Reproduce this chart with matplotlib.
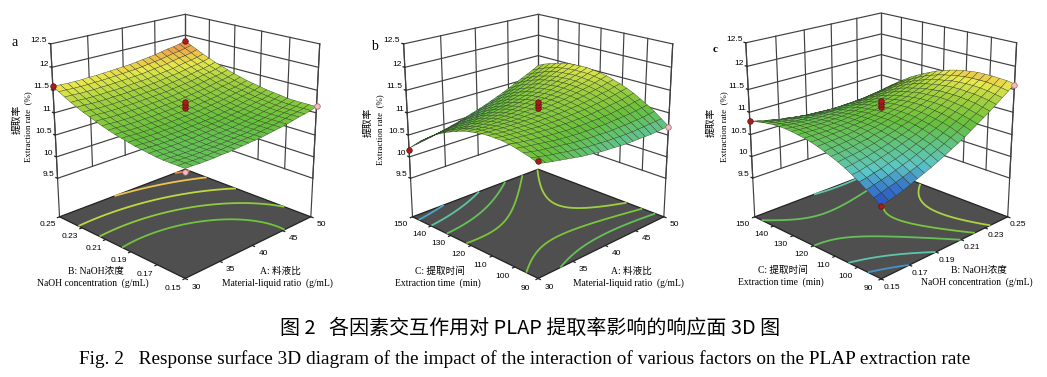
import numpy as np
import matplotlib
matplotlib.use('Agg')
import matplotlib.pyplot as plt
from matplotlib.colors import LinearSegmentedColormap, Normalize
from mpl_toolkits.mplot3d import proj3d

W, H = 1047, 377
SERIF = ['Liberation Serif', 'Noto Sans CJK SC']
SANS = ['Liberation Sans', 'Noto Sans CJK SC']

z_ticks = [9.5, 10, 10.5, 11, 11.5, 12, 12.5]
z_labels = ['9.5', '10', '10.5', '11', '11.5', '12', '12.5']
z_floor = 8.58
A_ticks = [30, 35, 40, 45, 50]
B_ticks = [0.15, 0.17, 0.19, 0.21, 0.23, 0.25]
C_ticks = [90, 100, 110, 120, 130, 140, 150]

cmap = LinearSegmentedColormap.from_list('de', [(0, '#2346c4'), (0.1, '#3a78c8'), (0.2, '#5cc6c8'), (0.43, '#66c03c'),
    (0.58, '#a4d040'), (0.68, '#e8e84c'), (0.78, '#eea04c'), (0.85, '#e87838'), (1, '#e05030')])
norm = Normalize(10.0, 12.2)

surf_a = [
[10.86,10.86,10.85,10.85,10.85,10.86,10.86,10.87,10.88,10.89,10.90,10.91,10.93,10.95,10.97,10.99,11.02,11.05,11.07,11.10,11.14],
[10.86,10.86,10.85,10.85,10.85,10.86,10.86,10.87,10.88,10.89,10.90,10.91,10.93,10.95,10.97,10.99,11.02,11.05,11.07,11.10,11.14],
[10.86,10.86,10.85,10.85,10.85,10.86,10.86,10.87,10.88,10.89,10.90,10.91,10.93,10.95,10.97,10.99,11.02,11.05,11.07,11.10,11.14],
[10.86,10.86,10.85,10.85,10.85,10.86,10.86,10.87,10.88,10.89,10.90,10.91,10.93,10.95,10.97,10.99,11.02,11.05,11.07,11.10,11.14],
[10.87,10.87,10.86,10.86,10.86,10.87,10.87,10.88,10.89,10.90,10.91,10.92,10.94,10.96,10.98,11.00,11.03,11.06,11.08,11.11,11.15],
[10.89,10.89,10.88,10.88,10.88,10.89,10.89,10.90,10.91,10.92,10.93,10.94,10.96,10.98,11.00,11.02,11.05,11.08,11.10,11.13,11.17],
[10.91,10.91,10.90,10.90,10.90,10.91,10.91,10.92,10.93,10.94,10.95,10.96,10.98,11.00,11.02,11.04,11.07,11.10,11.12,11.15,11.19],
[10.93,10.93,10.92,10.92,10.92,10.93,10.93,10.94,10.95,10.96,10.97,10.98,11.00,11.02,11.04,11.06,11.09,11.12,11.14,11.17,11.21],
[10.96,10.96,10.95,10.95,10.95,10.96,10.96,10.97,10.98,10.99,11.00,11.01,11.03,11.05,11.07,11.09,11.12,11.15,11.17,11.20,11.24],
[10.99,10.99,10.98,10.98,10.98,10.99,10.99,11.00,11.01,11.02,11.03,11.04,11.06,11.08,11.10,11.12,11.15,11.18,11.20,11.23,11.27],
[11.02,11.02,11.01,11.01,11.01,11.02,11.02,11.03,11.04,11.05,11.06,11.07,11.09,11.11,11.13,11.15,11.18,11.21,11.23,11.26,11.30],
[11.06,11.06,11.05,11.05,11.05,11.06,11.06,11.07,11.08,11.09,11.10,11.11,11.13,11.15,11.17,11.19,11.22,11.25,11.27,11.30,11.34],
[11.10,11.10,11.09,11.09,11.09,11.10,11.10,11.11,11.12,11.13,11.14,11.15,11.17,11.19,11.21,11.23,11.26,11.29,11.31,11.34,11.38],
[11.15,11.15,11.14,11.14,11.14,11.15,11.15,11.16,11.17,11.18,11.19,11.20,11.22,11.24,11.26,11.28,11.31,11.34,11.36,11.39,11.43],
[11.20,11.20,11.19,11.19,11.19,11.20,11.20,11.21,11.22,11.23,11.24,11.25,11.27,11.29,11.31,11.33,11.36,11.39,11.41,11.44,11.48],
[11.25,11.25,11.24,11.24,11.24,11.25,11.25,11.26,11.27,11.28,11.29,11.30,11.32,11.34,11.36,11.38,11.41,11.44,11.46,11.49,11.53],
[11.31,11.31,11.30,11.30,11.30,11.31,11.31,11.32,11.33,11.34,11.35,11.36,11.38,11.40,11.42,11.44,11.47,11.50,11.52,11.55,11.59],
[11.37,11.37,11.36,11.36,11.36,11.37,11.37,11.38,11.39,11.40,11.41,11.42,11.44,11.46,11.48,11.50,11.53,11.56,11.58,11.61,11.65],
[11.44,11.44,11.43,11.43,11.43,11.44,11.44,11.45,11.46,11.47,11.48,11.49,11.51,11.53,11.55,11.57,11.60,11.63,11.65,11.68,11.72],
[11.51,11.51,11.50,11.50,11.50,11.51,11.51,11.52,11.53,11.54,11.55,11.56,11.58,11.60,11.62,11.64,11.67,11.70,11.72,11.75,11.79],
[11.58,11.58,11.57,11.57,11.57,11.58,11.58,11.59,11.60,11.61,11.62,11.63,11.65,11.67,11.69,11.71,11.74,11.77,11.79,11.82,11.86],
]
surf_b = [
[10.96,10.92,10.89,10.86,10.83,10.80,10.77,10.75,10.73,10.71,10.70,10.69,10.68,10.67,10.67,10.67,10.67,10.67,10.68,10.69,10.70],
[11.02,10.98,10.95,10.92,10.90,10.87,10.85,10.83,10.81,10.80,10.79,10.78,10.78,10.77,10.77,10.77,10.78,10.79,10.80,10.81,10.82],
[11.06,11.03,11.00,10.98,10.96,10.94,10.92,10.90,10.89,10.88,10.87,10.87,10.86,10.86,10.87,10.87,10.88,10.89,10.90,10.92,10.94],
[11.10,11.07,11.05,11.03,11.01,10.99,10.97,10.96,10.95,10.94,10.94,10.94,10.94,10.94,10.95,10.96,10.97,10.98,11.00,11.02,11.04],
[11.13,11.10,11.08,11.06,11.05,11.03,11.02,11.01,11.00,11.00,11.00,11.00,11.01,11.01,11.02,11.03,11.05,11.07,11.08,11.11,11.13],
[11.15,11.12,11.11,11.09,11.08,11.07,11.06,11.05,11.05,11.05,11.05,11.06,11.06,11.07,11.09,11.10,11.12,11.14,11.16,11.19,11.22],
[11.15,11.13,11.12,11.11,11.10,11.09,11.08,11.08,11.08,11.08,11.09,11.10,11.11,11.12,11.14,11.16,11.18,11.20,11.23,11.26,11.29],
[11.15,11.13,11.12,11.11,11.11,11.10,11.10,11.10,11.11,11.11,11.12,11.13,11.15,11.16,11.18,11.20,11.23,11.26,11.28,11.32,11.35],
[11.14,11.12,11.12,11.11,11.11,11.11,11.11,11.11,11.12,11.13,11.14,11.15,11.17,11.19,11.22,11.24,11.27,11.30,11.33,11.37,11.40],
[11.11,11.11,11.10,11.10,11.10,11.10,11.10,11.11,11.12,11.13,11.15,11.17,11.19,11.21,11.24,11.27,11.30,11.33,11.37,11.41,11.45],
[11.08,11.08,11.07,11.07,11.08,11.08,11.09,11.10,11.12,11.13,11.15,11.17,11.20,11.22,11.25,11.28,11.32,11.35,11.39,11.44,11.48],
[11.04,11.04,11.04,11.04,11.05,11.06,11.07,11.08,11.10,11.12,11.14,11.16,11.19,11.22,11.25,11.29,11.33,11.37,11.41,11.46,11.50],
[10.98,10.99,10.99,11.00,11.01,11.02,11.04,11.05,11.07,11.09,11.12,11.15,11.18,11.21,11.25,11.29,11.33,11.37,11.42,11.46,11.52],
[10.92,10.93,10.93,10.95,10.96,10.97,10.99,11.01,11.04,11.06,11.09,11.12,11.16,11.19,11.23,11.27,11.32,11.36,11.41,11.46,11.52],
[10.85,10.86,10.87,10.88,10.90,10.92,10.94,10.96,10.99,11.02,11.05,11.08,11.12,11.16,11.20,11.25,11.30,11.35,11.40,11.45,11.51],
[10.77,10.78,10.79,10.81,10.83,10.85,10.88,10.90,10.93,10.96,11.00,11.04,11.08,11.12,11.17,11.22,11.27,11.32,11.38,11.43,11.50],
[10.67,10.69,10.71,10.73,10.75,10.77,10.80,10.83,10.87,10.90,10.94,10.98,11.03,11.07,11.12,11.17,11.23,11.28,11.34,11.40,11.47],
[10.57,10.59,10.61,10.63,10.66,10.69,10.72,10.75,10.79,10.83,10.87,10.91,10.96,11.01,11.06,11.12,11.18,11.24,11.30,11.36,11.43],
[10.46,10.48,10.50,10.53,10.56,10.59,10.63,10.66,10.70,10.75,10.79,10.84,10.89,10.94,11.00,11.06,11.12,11.18,11.24,11.31,11.38],
[10.33,10.36,10.39,10.42,10.45,10.48,10.52,10.56,10.61,10.65,10.70,10.75,10.80,10.86,10.92,10.98,11.05,11.11,11.18,11.25,11.33],
[10.20,10.23,10.26,10.29,10.33,10.37,10.41,10.45,10.50,10.55,10.60,10.65,10.71,10.77,10.83,10.90,10.97,11.04,11.11,11.18,11.26],
]
surf_c = [
[10.10,10.15,10.19,10.24,10.30,10.36,10.42,10.48,10.55,10.62,10.70,10.77,10.85,10.94,11.03,11.12,11.21,11.31,11.41,11.51,11.62],
[10.21,10.25,10.30,10.34,10.39,10.45,10.50,10.56,10.63,10.69,10.76,10.84,10.91,10.99,11.08,11.16,11.25,11.35,11.44,11.54,11.65],
[10.31,10.35,10.39,10.43,10.48,10.53,10.58,10.64,10.70,10.76,10.82,10.89,10.97,11.04,11.12,11.20,11.29,11.38,11.47,11.56,11.66],
[10.41,10.44,10.48,10.51,10.56,10.60,10.65,10.70,10.76,10.81,10.88,10.94,11.01,11.08,11.15,11.23,11.31,11.40,11.49,11.58,11.67],
[10.50,10.52,10.56,10.59,10.63,10.67,10.71,10.76,10.81,10.86,10.92,10.98,11.04,11.11,11.18,11.25,11.33,11.41,11.50,11.58,11.67],
[10.58,10.60,10.63,10.65,10.69,10.72,10.76,10.81,10.85,10.90,10.96,11.01,11.07,11.13,11.20,11.27,11.34,11.42,11.50,11.58,11.67],
[10.65,10.67,10.69,10.71,10.74,10.77,10.81,10.85,10.89,10.94,10.98,11.04,11.09,11.15,11.21,11.28,11.34,11.42,11.49,11.57,11.65],
[10.71,10.72,10.74,10.76,10.79,10.81,10.85,10.88,10.92,10.96,11.00,11.05,11.10,11.16,11.21,11.27,11.34,11.41,11.48,11.55,11.63],
[10.76,10.78,10.79,10.81,10.82,10.85,10.88,10.91,10.94,10.98,11.02,11.06,11.11,11.16,11.21,11.26,11.32,11.39,11.45,11.52,11.60],
[10.81,10.82,10.83,10.84,10.85,10.87,10.90,10.92,10.95,10.98,11.02,11.06,11.10,11.15,11.19,11.25,11.30,11.36,11.42,11.49,11.56],
[10.85,10.85,10.86,10.87,10.88,10.89,10.91,10.93,10.96,10.98,11.02,11.05,11.09,11.13,11.17,11.22,11.27,11.33,11.39,11.45,11.51],
[10.88,10.88,10.88,10.88,10.89,10.90,10.91,10.93,10.95,10.98,11.00,11.03,11.07,11.10,11.14,11.19,11.23,11.29,11.34,11.40,11.46],
[10.90,10.90,10.89,10.89,10.90,10.90,10.91,10.93,10.94,10.96,10.98,11.01,11.04,11.07,11.11,11.15,11.19,11.24,11.28,11.34,11.39],
[10.92,10.91,10.90,10.90,10.89,10.90,10.90,10.91,10.92,10.94,10.96,10.98,11.00,11.03,11.06,11.10,11.14,11.18,11.22,11.27,11.32],
[10.93,10.91,10.90,10.89,10.88,10.88,10.88,10.89,10.89,10.90,10.92,10.94,10.96,10.98,11.01,11.04,11.07,11.11,11.15,11.19,11.24],
[10.93,10.91,10.89,10.88,10.87,10.86,10.86,10.86,10.86,10.87,10.88,10.89,10.90,10.92,10.95,10.97,11.00,11.04,11.07,11.11,11.16],
[10.92,10.89,10.87,10.85,10.84,10.83,10.82,10.82,10.82,10.82,10.82,10.83,10.84,10.86,10.88,10.90,10.93,10.95,10.99,11.02,11.06],
[10.90,10.87,10.85,10.82,10.81,10.79,10.78,10.77,10.76,10.76,10.76,10.77,10.78,10.79,10.80,10.82,10.84,10.86,10.89,10.92,10.96],
[10.87,10.84,10.81,10.79,10.76,10.74,10.73,10.71,10.70,10.70,10.70,10.70,10.70,10.71,10.72,10.73,10.75,10.77,10.79,10.82,10.85],
[10.84,10.80,10.77,10.74,10.71,10.69,10.67,10.65,10.64,10.63,10.62,10.61,10.61,10.62,10.62,10.63,10.64,10.66,10.68,10.70,10.73],
[10.80,10.76,10.72,10.69,10.65,10.63,10.60,10.58,10.56,10.55,10.54,10.53,10.52,10.52,10.52,10.53,10.53,10.55,10.56,10.58,10.60],
]

levels_a = [11.0, 11.15, 11.35, 11.6, 11.8]
levels_b = [10.35, 10.6, 10.85, 11.05, 11.25]
levels_c = [10.3, 10.55, 10.85, 11.05, 11.3]

# design points: x, y, z
red_a = [(30, .25, 11.6), (50, .25, 11.85), (40, .2, 11.12), (40, .2, 11.18), (40, .2, 11.24)]
pink_a = [(50, .15, 11.15), (30, .15, 10.8)]
red_b = [(30, 150, 10.16), (30, 90, 11.0), (40, 120, 11.12), (40, 120, 11.18), (40, 120, 11.24)]
pink_b = [(50, 90, 10.68)]
red_c = [(.15, 150, 10.8), (.15, 90, 10.1), (.2, 120, 11.12), (.2, 120, 11.18), (.2, 120, 11.24)]
pink_c = [(.25, 90, 11.6)]

fig = plt.figure(figsize=(W/100, H/100), dpi=100)

def smooth_for_contour(Z, n=81):
    # table has only 2 decimals, contour lines wobble on it, so fit it first
    u, v = np.meshgrid(np.linspace(-1, 1, 21), np.linspace(-1, 1, 21))
    t = np.c_[np.ones(u.size), u.ravel(), v.ravel(), (u*v).ravel(), (u*u).ravel(), (v*v).ravel()]
    c = np.linalg.lstsq(t, Z.ravel(), rcond=None)[0]
    u, v = np.meshgrid(np.linspace(-1, 1, n), np.linspace(-1, 1, n))
    return c[0] + c[1]*u + c[2]*v + c[3]*u*v + c[4]*u*u + c[5]*v*v

def panel(cx, cy, size, xt, yt, Z, levels, red, pink, xfmt, yfmt):
    ax = fig.add_axes([(cx-size/2)/W, 1-(cy+size/2)/H, size/W, size/H], projection='3d')
    ax.set_axis_off()
    ax.set_xticks([])
    ax.set_yticks([])
    ax.set_zticks([])
    ax.computed_zorder = False
    ax.set_proj_type('persp', focal_length=0.55)
    ax.view_init(elev=20, azim=-135)
    ax.set_box_aspect((1, 1, 1.0))
    x0, x1, y0, y1 = xt[0], xt[-1], yt[0], yt[-1]
    dx, dy = x1-x0, y1-y0
    ax.set_xlim(x0, x1)
    ax.set_ylim(y0, y1)
    ax.set_zlim(z_floor, 12.5)
    Z = np.array(Z)
    M = ax.get_proj()

    def put(x, y, z, s, ha='center', va='center'):
        a, b, _ = proj3d.proj_transform(x, y, z, M)
        px = ax.transData.transform((a, b))
        fig.text(px[0]/W, px[1]/H, s, family=SANS, fontsize=6, ha=ha, va=va)

    gc = '#404040'
    for t in xt:
        ax.plot([t, t], [y1, y1], [9.5, 12.5], color=gc, lw=.85, zorder=1)
    for t in yt:
        ax.plot([x1, x1], [t, t], [9.5, 12.5], color=gc, lw=.85, zorder=1)
    for z in z_ticks:
        ax.plot([x0, x1, x1], [y1, y1, y0], [z, z, z], color=gc, lw=.85, zorder=1)
    ax.plot([x0, x0], [y1, y1], [z_floor, 12.5], color=gc, lw=.85, zorder=1)
    ax.plot([x1, x1], [y0, y0], [z_floor, 12.5], color=gc, lw=.85, zorder=1)
    FX, FY = np.meshgrid([x0, x1], [y0, y1])
    ax.plot_surface(FX, FY, np.full(FX.shape, z_floor), color='#4f4f4f', shade=False, zorder=2, linewidth=0)
    ax.plot([x0, x1, x1, x0, x0], [y0, y0, y1, y1, y0], [z_floor]*5, color='#222222', lw=.9, zorder=3)
    X, Y = np.meshgrid(np.linspace(x0, x1, 21), np.linspace(y0, y1, 21))
    CX, CY = np.meshgrid(np.linspace(x0, x1, 81), np.linspace(y0, y1, 81))
    ax.contour(CX, CY, smooth_for_contour(Z), levels=levels, zdir='z', offset=z_floor, cmap=cmap, norm=norm,
               linewidths=1.3, zorder=4)
    ax.plot_surface(X, Y, Z, facecolors=cmap(norm(Z)), rstride=1, cstride=1, shade=False,
                    edgecolor='#304020', linewidth=.28, zorder=5)
    for t in xt:
        ax.plot([t, t], [y0, y0-.015*dy], [z_floor]*2, color='#222222', lw=.9, zorder=6)
        put(t, y0-.075*dy, z_floor-.08, xfmt % t)
    for t in yt:
        ax.plot([x0, x0-.015*dx], [t, t], [z_floor]*2, color='#222222', lw=.9, zorder=6)
        put(x0-.085*dx, t, z_floor-.08, yfmt % t)
    for z, s in zip(z_ticks, z_labels):
        ax.plot([x0, x0], [y1, y1+.015*dy], [z, z], color='#222222', lw=.9, zorder=6)
        put(x0, y1+.03*dy, z-.03, s, ha='right', va='bottom')
    for p in red:
        ax.plot([p[0]], [p[1]], [p[2]], 'o', mfc='#a81c1c', mec='#601010', mew=.5, ms=4, zorder=7)
    for p in pink:
        ax.plot([p[0]], [p[1]], [p[2]], 'o', mfc='#f2bcc4', mec='#a06060', mew=.5, ms=4, zorder=7)
    return ax

panel(181, 137.5, 309, A_ticks, B_ticks, surf_a, levels_a, red_a, pink_a, '%d', '%.2f')
panel(534, 137.5, 309, A_ticks, C_ticks, surf_b, levels_b, red_b, pink_b, '%d', '%d')
panel(877, 137, 311, B_ticks, C_ticks, surf_c, levels_c, red_c, pink_c, '%.2f', '%d')

def label(x, y, s, size=6.9, rot=0, family=SERIF, **kw):
    fig.text(x/W, 1-y/H, s, family=family, fontsize=size, rotation=rot, ha='center', va='center', **kw)

label(15, 42, 'a', 10)
label(374, 46, 'b', 10)
label(715, 49, 'c', 8, fontweight='bold')
for x1, x2, y1, y2 in [(17, 28, 119, 127), (368, 380, 122, 130), (711, 724, 122, 127)]:
    label(x1, y1, '提取率', 7, 90)
    label(x2, y2, 'Extraction rate  (%)', 6.4, 90)
label(96, 271, 'B: NaOH浓度')
label(93, 283, 'NaOH concentration  (g/mL)')
label(280, 271, 'A: 料液比')
label(277, 283, 'Material-liquid ratio  (g/mL)')
label(440, 271, 'C: 提取时间')
label(438, 283, 'Extraction time  (min)')
label(631, 271, 'A: 料液比')
label(628, 283, 'Material-liquid ratio  (g/mL)')
label(783, 270, 'C: 提取时间')
label(781, 282, 'Extraction time  (min)')
label(979, 270, 'B: NaOH浓度')
label(977, 282, 'NaOH concentration  (g/mL)')
label(530, 328, '图 2   各因素交互作用对 PLAP 提取率影响的响应面 3D 图', 14.4, family=['Noto Sans CJK SC', 'Liberation Sans'])
label(525, 359, 'Fig. 2   Response surface 3D diagram of the impact of the interaction of various factors on the PLAP extraction rate', 13.85)

fig.savefig('out.png', dpi=100)
